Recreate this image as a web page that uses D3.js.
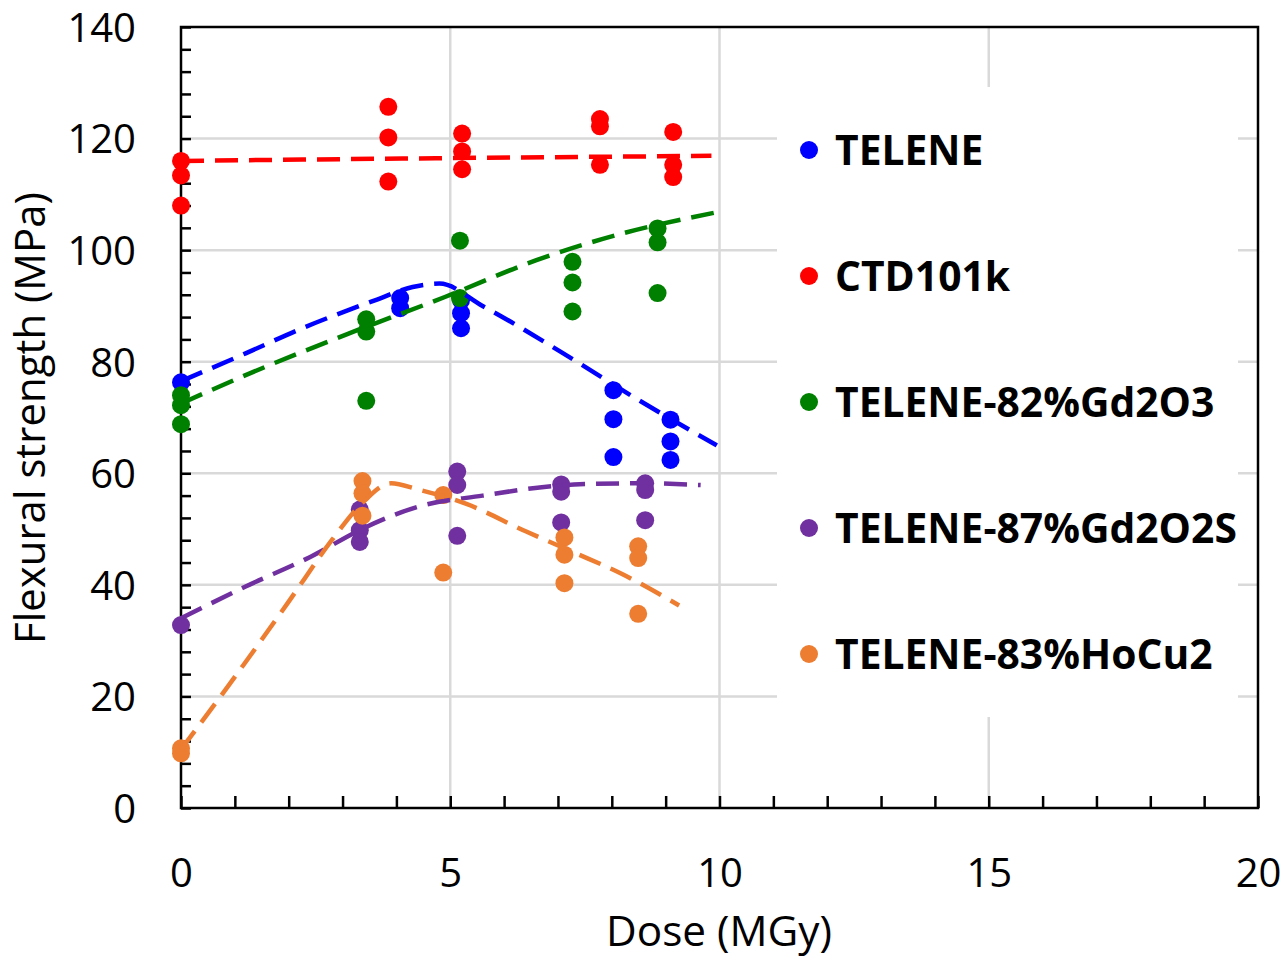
<!DOCTYPE html>
<html>
<head>
<meta charset="utf-8">
<script src="https://cdnjs.cloudflare.com/ajax/libs/d3/7.8.5/d3.min.js"></script>
<style>
  html, body { margin: 0; padding: 0; background: #fff; }
  svg { display: block; }
</style>
</head>
<body>
<div id="chart"></div>
<script>
// measured points [dose MGy, flexural strength MPa]
var telene = [[0,76.3],[4.07,91.4],[4.07,89.6],[5.2,91.0],[5.2,88.7],[5.2,86.0],
  [8.03,74.9],[8.03,69.7],[8.03,62.9],[9.09,69.6],[9.09,65.7],[9.09,62.4]];
var ctd101k = [[0,116],[0,113.4],[0,108],[3.85,125.7],[3.85,120.2],[3.85,112.3],
  [5.22,120.9],[5.22,117.7],[5.22,114.5],[7.78,123.5],[7.78,122.2],[7.78,115.3],
  [9.14,121.2],[9.14,115.3],[9.14,113.1]];
var gd2o3 = [[0,74],[0,72.2],[0,68.8],[3.44,87.6],[3.44,85.4],[3.44,73],
  [5.18,101.7],[5.18,91.4],[7.27,97.9],[7.27,94.2],[7.27,89],
  [8.85,103.9],[8.85,101.4],[8.85,92.3]];
var gd2o2s = [[0,32.8],[3.32,53.5],[3.32,49.8],[3.32,47.7],[5.13,60.3],[5.13,57.9],
  [5.13,48.8],[7.06,58],[7.06,56.7],[7.06,51.2],[8.62,58.2],[8.62,57],[8.62,51.6]];
var hocu2 = [[0,10.7],[0,9.8],[3.37,58.6],[3.37,56.4],[3.37,52.4],[4.87,56.1],
  [4.87,42.2],[7.12,48.5],[7.12,45.4],[7.12,40.3],[8.49,46.9],[8.49,44.8],[8.49,34.8]];

// dashed trend curves
var teleneFit = [[0,76.5],[1.2,81.5],[2.3,86.2],[3.6,91],[4.3,93.4],[4.8,94],
  [5.6,90],[7.3,80.3],[8.4,73.7],[9.95,65]];
var ctd101kFit = [[0,116],[5,116.5],[9.85,116.9]];
var gd2o3Fit = [[0,72.5],[1.3,78],[3.1,85],[4.9,91.6],[6.6,98.2],[8.2,103],[9.95,106.8]];
var gd2o2sFit = [[0,34],[1.2,39.7],[2.4,45],[3.4,50.2],[4.4,54],[5.6,56],[6.7,57.5],
  [7.6,58.1],[8.6,58.2],[9.65,57.9]];
var hocu2Fit = [[0,10.5],[1,23.5],[2,37],[2.8,48],[3.3,54],
  [3.9,58.2],[4.4,57.1],[5.3,54.5],[6.4,49.6],[7.3,45.8],[8.2,41.9],[9.25,36.3]];

var seriesNames = ['TELENE', 'CTD101k', 'TELENE-82%Gd2O3', 'TELENE-87%Gd2O2S', 'TELENE-83%HoCu2'];
var seriesColors = ['#0000ff', '#ff0000', '#008000', '#7030a0', '#ed7d31'];
var seriesPoints = [telene, ctd101k, gd2o3, gd2o2s, hocu2];
var seriesFits = [teleneFit, ctd101kFit, gd2o3Fit, gd2o2sFit, hocu2Fit];

var xTicks = [0, 5, 10, 15, 20];
var yTicks = [0, 20, 40, 60, 80, 100, 120, 140];

var width = 1286, height = 960;
var font = "'Open Sans', 'DejaVu Sans', sans-serif";

var x = d3.scaleLinear().domain([0, 20]).range([181, 1258]);
var y = d3.scaleLinear().domain([0, 140]).range([808, 27]);

var svg = d3.select('#chart')
  .append('svg')
  .attr('width', width)
  .attr('height', height)
  .attr('font-family', font);

// gridlines
var grid = svg.append('g').attr('stroke', '#d9d9d9').attr('stroke-width', 2.5);
grid.selectAll('line.h')
  .data(yTicks.filter(d => d > 0 && d < 140))
  .enter().append('line')
    .attr('x1', x(0)).attr('x2', x(20))
    .attr('y1', d => y(d)).attr('y2', d => y(d));
grid.selectAll('line.v')
  .data(xTicks.filter(d => d > 0 && d < 20))
  .enter().append('line')
    .attr('x1', d => x(d)).attr('x2', d => x(d))
    .attr('y1', y(0)).attr('y2', y(140));

// legend box hides the grid behind it
svg.append('rect')
  .attr('x', 777).attr('y', 87)
  .attr('width', 461).attr('height', 630)
  .attr('fill', '#fff');

// minor ticks, pointing inwards
svg.append('g')
  .attr('transform', 'translate(' + x(0) + ',0)')
  .call(d3.axisLeft(y).tickValues(d3.range(0, 141, 4)).tickSize(-10).tickFormat(''))
  .call(g => g.select('.domain').remove())
  .selectAll('line').attr('stroke', '#000').attr('stroke-width', 2.5);

svg.append('g')
  .attr('transform', 'translate(0,' + y(0) + ')')
  .call(d3.axisBottom(x).tickValues(d3.range(0, 21, 1)).tickSize(-12).tickFormat(''))
  .call(g => g.select('.domain').remove())
  .selectAll('line').attr('stroke', '#000').attr('stroke-width', 2.5);

// tick labels
var yLab = svg.append('g')
  .attr('transform', 'translate(' + x(0) + ',0)')
  .call(d3.axisLeft(y).tickValues(yTicks).tickSize(0).tickPadding(45));
yLab.select('.domain').remove();
yLab.selectAll('text')
  .attr('font-family', font)
  .attr('font-size', 40)
  .attr('fill', '#000')
  .attr('dy', '0.36em');

var xLab = svg.append('g')
  .attr('transform', 'translate(0,' + y(0) + ')')
  .call(d3.axisBottom(x).tickValues(xTicks).tickSize(0).tickPadding(0));
xLab.select('.domain').remove();
xLab.selectAll('text')
  .attr('font-family', font)
  .attr('font-size', 40)
  .attr('fill', '#000')
  .attr('y', 79)
  .attr('dy', 0);

// frame
svg.append('rect')
  .attr('x', x(0)).attr('y', y(140))
  .attr('width', x(20) - x(0)).attr('height', y(0) - y(140))
  .attr('fill', 'none')
  .attr('stroke', '#000')
  .attr('stroke-width', 2.5);

// axis titles
svg.append('text')
  .attr('transform', 'translate(45,' + 418 + ') rotate(-90)')
  .attr('text-anchor', 'middle')
  .attr('font-size', 38)
  .attr('fill', '#000')
  .text('Flexural strength (MPa)')
  .call(fitWidth, 452);

svg.append('text')
  .attr('x', 719)
  .attr('y', 946)
  .attr('text-anchor', 'middle')
  .attr('font-size', 40)
  .attr('fill', '#000')
  .text('Dose (MGy)')
  .call(fitWidth, 226);

// points
var dots = svg.append('g');
seriesPoints.forEach(function(pts, i) {
  dots.selectAll('circle.s' + i)
    .data(pts)
    .enter().append('circle')
      .attr('class', 's' + i)
      .attr('cx', d => x(d[0]))
      .attr('cy', d => y(d[1]))
      .attr('r', 9)
      .attr('fill', seriesColors[i]);
});

// trend lines
var line = d3.line()
  .x(d => x(d[0]))
  .y(d => y(d[1]))
  .curve(d3.curveMonotoneX);

svg.append('g')
  .selectAll('path')
  .data(seriesFits)
  .enter().append('path')
    .attr('d', line)
    .attr('fill', 'none')
    .attr('stroke', (d, i) => seriesColors[i])
    .attr('stroke-width', 4.5)
    .attr('stroke-dasharray', '23,11');

// legend
var legend = svg.append('g')
  .selectAll('g')
  .data(seriesNames)
  .enter().append('g')
    .attr('transform', (d, i) => 'translate(809,' + (150 + i * 126) + ')');

legend.append('circle')
  .attr('r', 9)
  .attr('fill', (d, i) => seriesColors[i]);

var legendText = legend.append('text')
  .attr('x', 26)
  .attr('dy', '0.36em')
  .attr('font-size', 38)
  .attr('font-weight', 'bold')
  .attr('fill', '#000')
  .text(d => d);

// scale legend font so the longest entry spans the same width as in the figure
var longest = legendText.filter(d => d === 'TELENE-87%Gd2O2S').node();
var lf = 38 * 402 / longest.getComputedTextLength();
legendText.attr('font-size', lf);

function fitWidth(sel, target) {
  var fs = +sel.attr('font-size');
  var w = sel.node().getComputedTextLength();
  sel.attr('font-size', fs * target / w);
}
</script>
</body>
</html>
